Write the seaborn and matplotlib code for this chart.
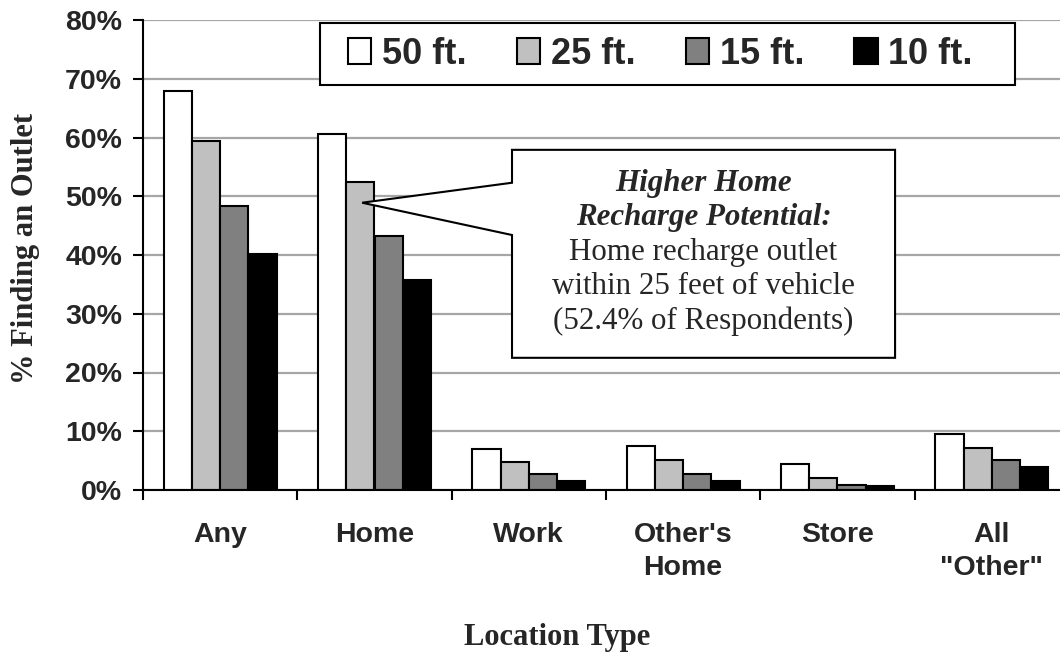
import numpy as np
import pandas as pd
import seaborn as sns
import matplotlib.pyplot as plt
from matplotlib.patches import Polygon, Patch, Rectangle
from matplotlib.ticker import FixedLocator, FuncFormatter

# data (percent of respondents)
locations = ['Any', 'Home', 'Work', "Other's\nHome", 'Store', 'All\n"Other"']
distances = ['50 ft.', '25 ft.', '15 ft.', '10 ft.']
pct_50 = [67.9, 60.6, 7.0, 7.5, 4.5, 9.6]
pct_25 = [59.4, 52.4, 4.8, 5.1, 2.1, 7.2]
pct_15 = [48.3, 43.3, 2.7, 2.8, 0.9, 5.1]
pct_10 = [40.1, 35.8, 1.6, 1.6, 0.7, 3.9]
bar_colors = ['white', '#c0c0c0', '#808080', 'black']

df = pd.DataFrame({
    'Location': locations * 4,
    'Distance': np.repeat(distances, len(locations)),
    'Pct': pct_50 + pct_25 + pct_15 + pct_10,
})

sns.set_style('white')
sans = ['Liberation Sans', 'DejaVu Sans']
serif = ['Liberation Serif', 'DejaVu Serif']

fig = plt.figure(figsize=(10.6, 6.54), dpi=100)
ax = fig.add_axes([143 / 1060, 164 / 654, 926 / 1060, 470 / 654])

sns.barplot(data=df, x='Location', y='Pct', hue='Distance', order=locations,
            hue_order=distances, palette=bar_colors, saturation=1, width=0.734,
            edgecolor='black', linewidth=1.5, legend=False, ax=ax, zorder=3)

ax.set_xlim(-0.5, len(locations) - 0.5)
ax.set_ylim(0, 80)
ax.set_yticks(range(0, 81, 10))
ax.yaxis.set_major_formatter(FuncFormatter(lambda v, p: f'{v:.0f}%'))
ax.set_axisbelow(True)
ax.yaxis.grid(True, color='#a6a6a6', lw=1.6)
ax.xaxis.grid(False)

for s in ['top', 'right']:
    ax.spines[s].set_visible(False)
for s in ['left', 'bottom']:
    ax.spines[s].set_color('black')
    ax.spines[s].set_linewidth(1.5)
    ax.spines[s].set_zorder(4)

ax.xaxis.set_minor_locator(FixedLocator(np.arange(-0.5, len(locations), 1.0)))
ax.tick_params(axis='x', which='major', length=0, pad=23)
ax.tick_params(axis='x', which='minor', bottom=True, length=7, width=1.5, color='black')
ax.tick_params(axis='y', left=True, length=7, width=1.5, color='black', pad=8)
for lab in ax.get_xticklabels() + ax.get_yticklabels():
    lab.set_fontfamily(sans)
    lab.set_fontweight('bold')
    lab.set_fontsize(20.5)
for lab in ax.get_xticklabels():
    lab.set_linespacing(1.35)
ax.set_xlabel('')
ax.set_ylabel('')

fig.text(26 / 1060, 1 - 248 / 654, '% Finding an Outlet', rotation=90,
         ha='center', va='center', fontfamily=serif, fontweight='bold', fontsize=22)
fig.text(557 / 1060, 1 - 645 / 654, 'Location Type', ha='center', va='baseline',
         fontfamily=serif, fontweight='bold', fontsize=22)

# legend: entries without frame, box drawn separately (wider side padding)
legend_box = Rectangle((320 / 1060, 1 - 85 / 654), 695 / 1060, 62 / 654,
                       transform=fig.transFigure, facecolor='white',
                       edgecolor='black', lw=1.5, zorder=5)
ax.add_artist(legend_box)
legend_box.set_clip_on(False)
handles = [Patch(facecolor=c, edgecolor='black', linewidth=1.5) for c in bar_colors]
leg = ax.legend(handles, distances, ncol=4, loc='center left',
                bbox_to_anchor=(348 / 1060, 1 - 54 / 654),
                bbox_transform=fig.transFigure,
                borderaxespad=0, borderpad=0, frameon=False,
                handlelength=0.65, handleheight=0.7, handletextpad=0.3,
                columnspacing=1.38,
                prop={'family': sans, 'weight': 'bold', 'size': 26})
leg.set_zorder(6)

# callout box pointing at Home / 25 ft.
callout = Polygon([(1.891, 57.9), (4.373, 57.9), (4.373, 22.5), (1.891, 22.5),
                   (1.891, 43.4), (0.92, 48.9), (1.891, 52.3)],
                  closed=True, facecolor='white', edgecolor='black', lw=1.5,
                  zorder=5, clip_on=False)
ax.add_patch(callout)
callout_lines = ['Higher Home', 'Recharge Potential:', 'Home recharge outlet',
                 'within 25 feet of vehicle', '(52.4% of Respondents)']
for i, line in enumerate(callout_lines):
    bold = i < 2
    ax.text(3.132, 52.2 - i * 5.87, line, ha='center', va='center', zorder=6,
            fontfamily=serif, fontsize=22.3,
            fontweight='bold' if bold else 'normal',
            fontstyle='italic' if bold else 'normal')

fig.savefig('out.png', dpi=100)
